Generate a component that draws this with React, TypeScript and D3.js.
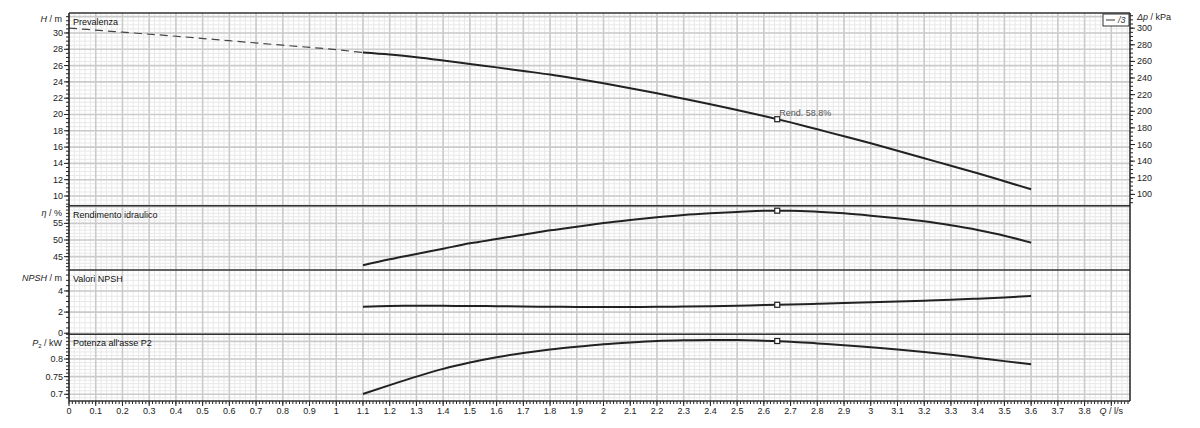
import React from "react";
import * as d3 from "d3";

// ---------- data ----------
const flowDashed = [0, 0.2, 0.4, 0.6, 0.8, 1.0, 1.1];
const headDashed = [30.6, 30.1, 29.6, 29.05, 28.5, 27.95, 27.6];

const flow = [1.1, 1.2, 1.3, 1.4, 1.5, 1.6, 1.7, 1.8, 1.9, 2.0, 2.1, 2.2, 2.3, 2.4, 2.5, 2.6, 2.7, 2.8, 2.9, 3.0, 3.1, 3.2, 3.3, 3.4, 3.5, 3.6];
const head = [27.6, 27.35, 27.03, 26.63, 26.2, 25.78, 25.34, 24.9, 24.38, 23.83, 23.23, 22.6, 21.93, 21.25, 20.55, 19.82, 19.03, 18.18, 17.33, 16.47, 15.55, 14.63, 13.71, 12.79, 11.81, 10.82];
const efficiency = [42.4, 44.2, 45.8, 47.4, 49.0, 50.3, 51.6, 52.9, 54.0, 55.1, 56.0, 56.8, 57.5, 58.0, 58.4, 58.75, 58.78, 58.5, 58.0, 57.3, 56.5, 55.6, 54.4, 53.0, 51.3, 49.2];
const npsh = [2.5, 2.58, 2.59, 2.59, 2.58, 2.56, 2.52, 2.5, 2.49, 2.49, 2.49, 2.5, 2.52, 2.56, 2.6, 2.66, 2.72, 2.78, 2.85, 2.92, 3.0, 3.08, 3.17, 3.27, 3.38, 3.52];
const power = [0.701, 0.726, 0.75, 0.772, 0.79, 0.805, 0.817, 0.827, 0.835, 0.842, 0.847, 0.851, 0.853, 0.854, 0.854, 0.852, 0.849, 0.844, 0.839, 0.833, 0.827, 0.82, 0.812, 0.803, 0.794, 0.785];

const dutyFlow = 2.65;
const dutyHead = 19.42;
const dutyEff = 58.8;
const dutyNpsh = 2.69;
const dutyPower = 0.851;
const dutyLabel = "Rend.  58.8%";

const xTicks = [0, 0.1, 0.2, 0.3, 0.4, 0.5, 0.6, 0.7, 0.8, 0.9, 1, 1.1, 1.2, 1.3, 1.4, 1.5, 1.6, 1.7, 1.8, 1.9, 2, 2.1, 2.2, 2.3, 2.4, 2.5, 2.6, 2.7, 2.8, 2.9, 3, 3.1, 3.2, 3.3, 3.4, 3.5, 3.6, 3.7, 3.8];
const headTicks = [10, 12, 14, 16, 18, 20, 22, 24, 26, 28, 30];
const effTicks = [45, 50, 55];
const npshTicks = [0, 2, 4];
const powerTicks = [0.7, 0.75, 0.8];
const kpaTicks = [100, 120, 140, 160, 180, 200, 220, 240, 260, 280, 300];

const panelTitles = ["Prevalenza", "Rendimento idraulico", "Valori NPSH", "Potenza all'asse P2"];

// ---------- layout ----------
const W = 1200;
const H = 428;
const X0 = 69;
const X1 = 1130;
const bounds = [13, 205.7, 270, 334.3, 401];
const FONT = "'Liberation Sans', Arial, sans-serif";

const x = d3.scaleLinear().domain([0, 3.97]).range([X0, X1]);
const yHead = d3.scaleLinear().domain([8.81, 32.45]).range([bounds[1], bounds[0]]);
const yKpa = d3.scaleLinear().domain([8.81 * 9.807, 32.45 * 9.807]).range([bounds[1], bounds[0]]);
const yEff = d3.scaleLinear().domain([41.0, 60.3]).range([bounds[2], bounds[1]]);
const yNpsh = d3.scaleLinear().domain([-0.1, 5.98]).range([bounds[3], bounds[2]]);
const yPow = d3.scaleLinear().domain([0.681, 0.87]).range([bounds[4], bounds[3]]);

type Panel = {
  y: d3.ScaleLinear<number, number>;
  top: number;
  bottom: number;
  major: number[];
  gridMajorStep: number;
  minorStep: number;
  labels: number[];
};

const panels: Panel[] = [
  { y: yHead, top: bounds[0], bottom: bounds[1], major: headTicks, gridMajorStep: 2, minorStep: 0.5, labels: headTicks },
  { y: yEff, top: bounds[1], bottom: bounds[2], major: effTicks, gridMajorStep: 5, minorStep: 1, labels: effTicks },
  { y: yNpsh, top: bounds[2], bottom: bounds[3], major: npshTicks, gridMajorStep: 2, minorStep: 0.5, labels: npshTicks },
  { y: yPow, top: bounds[3], bottom: bounds[4], major: powerTicks, gridMajorStep: 0.05, minorStep: 0.01, labels: powerTicks },
];

function stepValues(domain: number[], step: number): number[] {
  const lo = Math.ceil(domain[0] / step - 1e-6);
  const hi = Math.floor(domain[1] / step + 1e-6);
  const out: number[] = [];
  for (let i = lo; i <= hi; i++) out.push(+(i * step).toFixed(6));
  return out;
}

const seriesLine = (yScale: d3.ScaleLinear<number, number>, vals: number[]) =>
  d3
    .line<number>()
    .x((_, i) => x(flow[i]))
    .y((d) => yScale(d))
    .curve(d3.curveMonotoneX)(vals) || "";

export default function App() {
  const xMinor = stepValues([0, 3.97], 0.02);
  const xMajor = stepValues([0, 3.95], 0.1);
  const xTickMinor = stepValues([0, 3.97], 0.0125);

  const dashedPath =
    d3
      .line<number>()
      .x((_, i) => x(flowDashed[i]))
      .y((d) => yHead(d))
      .curve(d3.curveMonotoneX)(headDashed) || "";

  const markers = [yHead(dutyHead), yEff(dutyEff), yNpsh(dutyNpsh), yPow(dutyPower)];

  return (
    <svg
      width={W}
      height={H}
      style={{ position: "absolute", left: 0, top: 0, background: "#fff" }}
      fontFamily={FONT}
    >
      <rect x={0} y={0} width={W} height={H} fill="#fff" />
      {/* grids */}
      {panels.map((p, pi) => {
        const dom = p.y.domain();
        const minor = stepValues(dom, p.minorStep);
        const major = stepValues(dom, p.gridMajorStep);
        return (
          <g key={"grid" + pi}>
            {xMinor.map((v) => (
              <line key={"xm" + v} x1={x(v)} x2={x(v)} y1={p.top} y2={p.bottom} stroke="#e8e8e8" strokeWidth={1} />
            ))}
            {minor.map((v) => (
              <line key={"ym" + v} x1={X0} x2={X1} y1={p.y(v)} y2={p.y(v)} stroke="#e8e8e8" strokeWidth={1} />
            ))}
            {xMajor.map((v) => (
              <line key={"xM" + v} x1={x(v)} x2={x(v)} y1={p.top} y2={p.bottom} stroke="#cbcbcb" strokeWidth={1.6} />
            ))}
            {major.map((v) => (
              <line key={"yM" + v} x1={X0} x2={X1} y1={p.y(v)} y2={p.y(v)} stroke="#cbcbcb" strokeWidth={1.6} />
            ))}
          </g>
        );
      })}

      {/* left axis ticks & labels */}
      {panels.map((p, pi) => {
        const dom = p.y.domain();
        const minor = stepValues(dom, p.minorStep);
        return (
          <g key={"ax" + pi}>
            {minor.map((v) => (
              <line key={"t" + v} x1={X0 - 3} x2={X0} y1={p.y(v)} y2={p.y(v)} stroke="#222" strokeWidth={1} />
            ))}
            {p.major.map((v) => (
              <line key={"T" + v} x1={X0 - 5} x2={X0} y1={p.y(v)} y2={p.y(v)} stroke="#222" strokeWidth={1} />
            ))}
            {p.labels.map((v) => (
              <text key={"l" + v} x={X0 - 6} y={p.y(v) + 3} fontSize={9} textAnchor="end" fill="#222">
                {String(v)}
              </text>
            ))}
            <text x={X0 + 4} y={p.top + 12} fontSize={9} fill="#111">
              {panelTitles[pi]}
            </text>
          </g>
        );
      })}

      {/* axis titles (left) */}
      <text x={X0 - 7} y={bounds[0] + 9} fontSize={9} textAnchor="end" fill="#222">
        <tspan fontStyle="italic">H</tspan> / m
      </text>
      <text x={X0 - 7} y={bounds[1] + 10} fontSize={9} textAnchor="end" fill="#222">
        <tspan fontStyle="italic">η</tspan> / %
      </text>
      <text x={X0 - 7} y={bounds[2] + 11} fontSize={9} textAnchor="end" fill="#222">
        <tspan fontStyle="italic">NPSH</tspan> / m
      </text>
      <text x={X0 - 7} y={bounds[3] + 12} fontSize={9} textAnchor="end" fill="#222">
        <tspan fontStyle="italic">P</tspan>
        <tspan fontSize={6} dy={2}>2</tspan>
        <tspan dy={-2}> / kW</tspan>
      </text>

      {/* right axis kPa */}
      <g>
        {stepValues(yKpa.domain(), 5).map((v) => (
          <line key={"kt" + v} x1={X1} x2={X1 + 3} y1={yKpa(v)} y2={yKpa(v)} stroke="#222" strokeWidth={1} />
        ))}
        {kpaTicks.map((v) => (
          <g key={"kT" + v}>
            <line x1={X1} x2={X1 + 5} y1={yKpa(v)} y2={yKpa(v)} stroke="#222" strokeWidth={1} />
            <text x={X1 + 7} y={yKpa(v) + 3} fontSize={9} fill="#222">
              {v}
            </text>
          </g>
        ))}
        <text x={X1 + 7} y={bounds[0] + 7} fontSize={9} fill="#222">
          <tspan fontStyle="italic">Δp</tspan> / kPa
        </text>
      </g>

      {/* bottom axis */}
      <g>
        {xTickMinor.map((v) => (
          <line key={"bt" + v} x1={x(v)} x2={x(v)} y1={bounds[4]} y2={bounds[4] + 3} stroke="#222" strokeWidth={1} />
        ))}
        {xMajor.map((v) => (
          <line key={"bT" + v} x1={x(v)} x2={x(v)} y1={bounds[4]} y2={bounds[4] + 5} stroke="#222" strokeWidth={1} />
        ))}
        {xTicks.map((v) => (
          <text key={"bl" + v} x={x(v)} y={bounds[4] + 13} fontSize={9} textAnchor="middle" fill="#222">
            {String(v)}
          </text>
        ))}
        <text x={x(3.9)} y={bounds[4] + 13} fontSize={9} textAnchor="middle" fill="#222">
          <tspan fontStyle="italic">Q</tspan> / l/s
        </text>
      </g>

      {/* curves */}
      <path d={dashedPath} fill="none" stroke="#444" strokeWidth={1.2} strokeDasharray="8,5" />
      <path d={seriesLine(yHead, head)} fill="none" stroke="#222" strokeWidth={2} />
      <path d={seriesLine(yEff, efficiency)} fill="none" stroke="#222" strokeWidth={2} />
      <path d={seriesLine(yNpsh, npsh)} fill="none" stroke="#222" strokeWidth={2} />
      <path d={seriesLine(yPow, power)} fill="none" stroke="#222" strokeWidth={2} />

      {/* duty point markers */}
      {markers.map((my, i) => (
        <rect key={"mk" + i} x={x(dutyFlow) - 2.5} y={my - 2.5} width={5} height={5} fill="#fff" stroke="#222" strokeWidth={1.2} />
      ))}
      <text x={x(dutyFlow) + 2} y={yHead(dutyHead) - 3} fontSize={9} fill="#555">
        {dutyLabel}
      </text>

      {/* panel borders */}
      {bounds.map((b, i) => (
        <line key={"pb" + i} x1={X0} x2={X1} y1={b} y2={b} stroke="#333" strokeWidth={1.5} />
      ))}
      <line x1={X0} x2={X0} y1={bounds[0]} y2={bounds[4]} stroke="#222" strokeWidth={1.5} />
      <line x1={X1} x2={X1} y1={bounds[0]} y2={bounds[4]} stroke="#222" strokeWidth={1.5} />

      {/* legend */}
      <rect x={1103} y={14} width={26} height={12} fill="#fff" stroke="#333" strokeWidth={1} />
      <line x1={1106} x2={1115} y1={20} y2={20} stroke="#333" strokeWidth={1} />
      <text x={1118} y={23} fontSize={9} fill="#333" fontStyle="italic">
        /3
      </text>
    </svg>
  );
}
